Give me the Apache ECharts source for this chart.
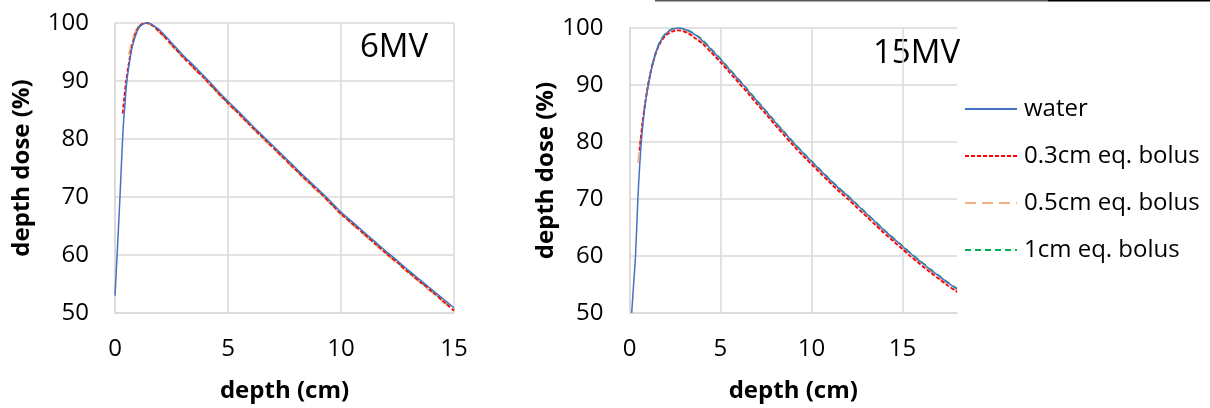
<!DOCTYPE html>
<html><head><meta charset="utf-8">
<script src="https://cdn.jsdelivr.net/npm/echarts@6/dist/echarts.min.js"></script>
<style>html,body{margin:0;padding:0;background:#fff}#c{width:1210px;height:408px}</style>
</head><body><div id="c"></div>
<script>
// ---------- data ----------
const seriesNames = ['water', '0.3cm eq. bolus', '0.5cm eq. bolus', '1cm eq. bolus'];
const xTicks6 = [0, 5, 10, 15];
const xTicks15 = [0, 5, 10, 15];
const yTicks = [50, 60, 70, 80, 90, 100];

// 6MV
const d6Water = [0,0.1,0.22,0.3,0.37,0.45,0.52,0.6,0.74,0.9,1.03,1.2,1.4,1.6,1.8,2,2.5,3,3.5,4,4.5,5,5.5,6,6.5,7,7.5,8,8.5,9,9.5,10,10.5,11,11.5,12,12.5,13,13.5,14,14.5,15];
const v6Water = [53,60.5,70,77,82.4,86.5,89.8,92.2,95.5,97.7,99,99.7,100,99.8,99.3,98.7,96.6,94.5,92.6,90.6,88.5,86.5,84.6,82.6,80.7,78.8,76.9,75,73.1,71.3,69.4,67.4,65.7,64,62.3,60.6,59,57.3,55.7,54.1,52.5,50.9];
const d6B03 = [0.34,0.4,0.5,0.6,0.75,0.9,1.05,1.2,1.4,1.6,1.8,2,2.5,3,3.5,4,4.5,5,5.5,6,6.5,7,7.5,8,8.5,9,9.5,10,10.5,11,11.5,12,12.5,13,13.5,14,14.5,15];
const v6B03 = [84.4,86.8,90.2,92.8,96,98.1,99.3,99.8,100,99.7,99.1,98.4,96.3,94.2,92.2,90.3,88.2,86.2,84.3,82.3,80.4,78.5,76.6,74.7,72.8,71,69.1,67.1,65.4,63.7,62,60.3,58.7,57,55.4,53.8,52.1,50.4];
const d6B05 = [0.6,0.75,0.9,1.05,1.3,1.6,2,2.5,3,3.5,4,4.5,5,5.5,6,6.5,7,7.5,8,8.5,9,9.5,10,10.5,11,11.5,12,12.5,13,13.5,14,14.5,15];
const v6B05 = [94.5,97,98.6,99.5,100,99.6,98.2,96.1,94,92.1,90.1,88,86,84.1,82.1,80.2,78.3,76.4,74.5,72.6,70.8,68.9,66.9,65.2,63.5,61.8,60.1,58.5,56.8,55.2,53.6,52,50.3];
const d6B10 = [1,1.2,1.45,1.7,2,2.5,3,3.5,4,4.5,5,5.5,6,6.5,7,7.5,8,8.5,9,9.5,10,10.5,11,11.5,12,12.5,13,13.5,14,14.5,15];
const v6B10 = [99.2,99.8,100,99.5,98.5,96.3,94.2,92.3,90.3,88.2,86.2,84.3,82.3,80.4,78.5,76.6,74.7,72.8,71,69.1,67.1,65.4,63.7,62,60.3,58.7,57,55.4,53.8,52.2,50.5];

// 15MV
const d15Water = [0.12,0.2,0.33,0.46,0.61,0.75,0.88,1,1.16,1.35,1.53,1.75,2,2.3,2.6,2.9,3.3,3.7,4,4.5,5,5.5,6,6.5,7,7.5,8,8.5,9,9.5,10,10.5,11,11.5,12,12.5,13,13.5,14,14.5,15,15.5,16,16.5,17,17.5,18];
const v15Water = [50,53.8,60,70,78.3,83.5,87,89.3,92.1,94.5,96.4,97.9,99,99.7,100,99.9,99.4,98.6,97.8,96.2,94.5,92.7,90.9,89.1,87.2,85.4,83.5,81.7,79.9,78.2,76.6,75,73.4,71.9,70.5,69,67.5,66,64.5,63.1,61.7,60.3,59,57.7,56.5,55.3,54.2];
const d15B03 = [0.55,0.7,0.88,1,1.16,1.35,1.53,1.75,2,2.3,2.6,2.9,3.3,3.7,4,4.5,5,5.5,6,6.5,7,7.5,8,8.5,9,9.5,10,10.5,11,11.5,12,12.5,13,13.5,14,14.5,15,15.5,16,16.5,17,17.5,18];
const v15B03 = [78.5,83,87.3,89.6,92.2,94.6,96.3,97.7,98.7,99.3,99.6,99.5,98.9,98,97.3,95.7,94,92.2,90.4,88.6,86.7,84.9,83,81.2,79.4,77.7,76.1,74.5,72.9,71.4,70,68.5,67,65.5,64,62.6,61.2,59.8,58.5,57.2,56,54.8,53.7];
const d15B05 = [0.46,0.6,0.75,0.88,1,1.16,1.35,1.53,1.75,2,2.3,2.6,2.9,3.3,3.7,4,4.5,5,5.5,6,6.5,7,7.5,8,8.5,9,9.5,10,10.5,11,11.5,12,12.5,13,13.5,14,14.5,15,15.5,16,16.5,17,17.5,18];
const v15B05 = [76.3,80.5,84.5,87.5,89.7,92.2,94.6,96.4,97.9,99,99.6,99.9,99.7,99.1,98.3,97.5,95.9,94.2,92.4,90.6,88.8,86.9,85.1,83.2,81.4,79.6,77.9,76.3,74.7,73.1,71.6,70.2,68.7,67.2,65.7,64.2,62.8,61.4,60,58.7,57.4,56.2,55,53.9];
const d15B10 = [1,1.16,1.35,1.53,1.75,2,2.3,2.6,2.9,3.3,3.7,4,4.5,5,5.5,6,6.5,7,7.5,8,8.5,9,9.5,10,10.5,11,11.5,12,12.5,13,13.5,14,14.5,15,15.5,16,16.5,17,17.5,18];
const v15B10 = [89.8,92.4,94.8,96.6,98.1,99.1,99.8,100,99.9,99.5,98.7,98,96.3,94.6,92.8,91,89.2,87.3,85.5,83.6,81.8,80,78.3,76.7,75.1,73.5,72,70.6,69.1,67.6,66.1,64.6,63.2,61.8,60.4,59.1,57.8,56.6,55.4,54.3];

// ---------- helpers ----------
function pairs(d, v) { return d.map((x, i) => [x, v[i]]); }
const FONT = '"Open Sans", Lato, sans-serif';
const colors = ['#4472C4', '#FF0000', '#F4B183', '#00B050'];
const dashes = ['solid', [4, 2], [11, 6], [6, 4]];
const widths = [1.5, 1.8, 1.5, 1.5];
const gridColor = '#D9D9D9';

function makeSeries(name, idx, gi, data) {
  return {
    name, type: 'line', xAxisIndex: gi, yAxisIndex: gi, data,
    symbol: 'none', smooth: 0.3, silent: true, z: 10 - idx,
    lineStyle: { color: colors[idx], width: widths[idx], type: dashes[idx] },
    itemStyle: { color: colors[idx] }
  };
}

function xAxis(gi, max, ticks, gap) {
  return {
    gridIndex: gi, type: 'value', min: 0, max: max, interval: 5,
    name: 'depth (cm)', nameLocation: 'middle', nameGap: gap,
    nameTextStyle: { fontFamily: FONT, fontSize: 24, fontWeight: 'bold', color: '#000' },
    axisLine: { show: true, lineStyle: { color: gridColor, width: 1.5 } },
    axisTick: { show: false, customValues: ticks },
    axisLabel: { customValues: ticks, fontFamily: FONT, fontSize: 24, color: '#000', margin: 24 },
    splitLine: { show: true, lineStyle: { color: gridColor, width: 1.5 } }
  };
}
function yAxis(gi, gap) {
  return {
    gridIndex: gi, type: 'value', min: 50, max: 100, interval: 10,
    name: 'depth dose (%)', nameLocation: 'middle', nameGap: gap, nameRotate: 90,
    nameTextStyle: { fontFamily: FONT, fontSize: 24, fontWeight: 'bold', color: '#000' },
    axisLine: { show: true, lineStyle: { color: gridColor, width: 1.5 } },
    axisTick: { show: false },
    axisLabel: { fontFamily: FONT, fontSize: 24, color: '#000', margin: 26 },
    splitLine: { show: true, lineStyle: { color: gridColor, width: 1.5 } }
  };
}

const chart = echarts.init(document.getElementById('c'), null, { renderer: 'canvas' });
chart.setOption({
  animation: false,
  backgroundColor: '#fff',
  grid: [
    { left: 115, top: 23, width: 339, height: 291 },
    { left: 629.5, top: 28, width: 327.5, height: 288 }
  ],
  xAxis: [xAxis(0, 15, xTicks6, 66), xAxis(1, 18, xTicks15, 66)],
  yAxis: [yAxis(0, 81), yAxis(1, 69)],
  legend: {
    orient: 'vertical', left: 964, top: 97, padding: 0,
    itemWidth: 52, itemHeight: 14, itemGap: 23,
    itemStyle: { opacity: 0 },
    data: seriesNames,
    textStyle: { fontFamily: FONT, fontSize: 24, color: '#000', lineHeight: 24, padding: [0, 0, 0, 2] }
  },
  series: [
    makeSeries(seriesNames[3], 3, 0, pairs(d6B10, v6B10)),
    makeSeries(seriesNames[2], 2, 0, pairs(d6B05, v6B05)),
    makeSeries(seriesNames[1], 1, 0, pairs(d6B03, v6B03)),
    makeSeries(seriesNames[0], 0, 0, pairs(d6Water, v6Water)),
    makeSeries(seriesNames[3], 3, 1, pairs(d15B10, v15B10)),
    makeSeries(seriesNames[2], 2, 1, pairs(d15B05, v15B05)),
    makeSeries(seriesNames[1], 1, 1, pairs(d15B03, v15B03)),
    makeSeries(seriesNames[0], 0, 1, pairs(d15Water, v15Water))
  ],
  graphic: [
    { type: 'text', x: 360, y: 48, style: { text: '6MV', font: '33px ' + FONT, fill: '#000', verticalAlign: 'middle' } },
    { type: 'text', x: 873, y: 54, style: { text: '15MV', font: '33px ' + FONT, fill: '#000', verticalAlign: 'middle' } },
    { type: 'rect', shape: { x: 655, y: 0, width: 393, height: 1.5 }, style: { fill: '#595959' } },
    { type: 'rect', shape: { x: 1048, y: 0, width: 162, height: 1.5 }, style: { fill: '#000' } }
  ]
});
</script></body></html>
